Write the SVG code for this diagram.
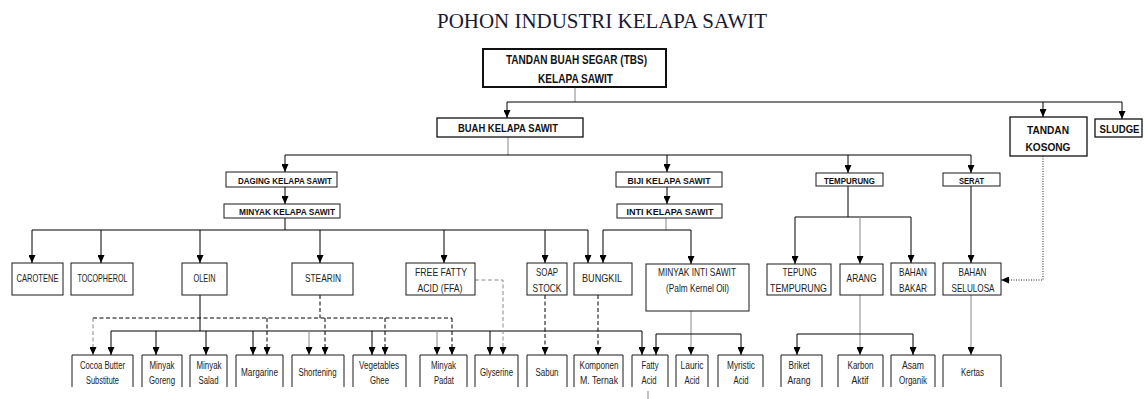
<svg xmlns="http://www.w3.org/2000/svg" width="1147" height="399" viewBox="0 0 1147 399">
<style>
.bg{fill:#fff}
.box{fill:#fff;stroke:#1a1a1a;stroke-width:1}
.bx2{fill:#fff;stroke:#111;stroke-width:1.3}
.open{fill:none;stroke:#1a1a1a;stroke-width:1}
.b{font-family:"Liberation Sans",Arial,sans-serif;font-weight:bold;text-anchor:middle;fill:#111}
.r{font-family:"Liberation Sans",Arial,sans-serif;text-anchor:middle;fill:#222}
.ln{fill:none;stroke:#000;stroke-width:1}
.gl{fill:none;stroke:#888;stroke-width:1}
.ds{fill:none;stroke:#000;stroke-width:1;stroke-dasharray:4,2.5}
.dg{fill:none;stroke:#888;stroke-width:1;stroke-dasharray:4,2.5}
.dt{fill:none;stroke:#222;stroke-width:1;stroke-dasharray:1,1.5}
.ah{marker-end:url(#ah)}
</style>
<defs>
<marker id="ah" viewBox="0 0 8 7" refX="8" refY="3.5" markerWidth="8" markerHeight="7" orient="auto" markerUnits="userSpaceOnUse"><path d="M0,0 L8,3.5 L0,7 z" fill="#000"/></marker>
</defs>
<rect class="bg" x="0" y="0" width="1147" height="399"/>
<text x="602" y="28" font-family="'Liberation Serif','Times New Roman',serif" font-size="20.5" fill="#1a1a33" text-anchor="middle" textLength="330" lengthAdjust="spacingAndGlyphs">POHON INDUSTRI KELAPA SAWIT</text>

<g id="connectors">
<path class="gl" d="M575,87 V102"/>
<path class="ln" d="M507,102 H1122"/>
<path class="ln ah" d="M507,102 V118"/>
<path class="ln ah" d="M1043,102 V117"/>
<path class="ln ah" d="M1122,102 V119"/>
<path class="gl" d="M508,137 V155"/>
<path class="ln" d="M285,155 H971"/>
<path class="ln ah" d="M285,155 V172"/>
<path class="ln ah" d="M667,155 V172"/>
<path class="ln ah" d="M848,155 V173"/>
<path class="ln ah" d="M971,155 V173"/>
<path class="ln ah" d="M285,187 V204"/>
<path class="ln ah" d="M667,187 V204"/>
<path class="ln" d="M285,218 V230 M32,230 H588"/>
<path class="ln ah" d="M32,230 V263"/>
<path class="ln ah" d="M101,230 V263"/>
<path class="ln ah" d="M200,230 V263"/>
<path class="ln ah" d="M320,230 V263"/>
<path class="ln ah" d="M444,230 V263"/>
<path class="ln ah" d="M545,230 V263"/>
<path class="ln ah" d="M588,230 V263"/>
<path class="gl" d="M666,218 V230"/>
<path class="ln" d="M603,230 H691"/>
<path class="ln ah" d="M603,230 V263"/>
<path class="ln ah" d="M691,230 V264"/>
<path class="ln" d="M848,186 V217 M795,217 H911"/>
<path class="ln ah" d="M795,217 V264"/>
<path class="gl ah" d="M860,217 V264"/>
<path class="ln ah" d="M911,217 V263"/>
<path class="ln ah" d="M971,186 V263"/>
<path class="dt ah" d="M1043,156 V280 H1001"/>
<path class="ln" d="M200,295 V331 M111,331 H642"/>
<path class="ln ah" d="M111,331 V355"/>
<path class="ln ah" d="M156,331 V355"/>
<path class="ln ah" d="M206,331 V355"/>
<path class="ln ah" d="M253,331 V355"/>
<path class="gl ah" d="M309,331 V355"/>
<path class="ln ah" d="M372,331 V355"/>
<path class="gl ah" d="M437,331 V355"/>
<path class="ln ah" d="M490,331 V355"/>
<path class="ln ah" d="M642,331 V355"/>
<path class="ds" d="M320,295 V318 M93,318 H452"/>
<path class="dg ah" d="M93,318 V355"/>
<path class="ds ah" d="M267,318 V355"/>
<path class="ds ah" d="M325,318 V355"/>
<path class="ds ah" d="M385,318 V355"/>
<path class="ds ah" d="M452,318 V355"/>
<path class="dg ah" d="M475,280 H503 V355"/>
<path class="ds ah" d="M545,295 V355"/>
<path class="ds ah" d="M598,295 V355"/>
<path class="gl ah" d="M691,311 V355"/>
<path class="ln" d="M656,334 H741"/>
<path class="ln ah" d="M656,334 V355"/>
<path class="ln ah" d="M741,334 V355"/>
<path class="gl ah" d="M860,295 V355"/>
<path class="ln" d="M797,334 H913"/>
<path class="ln ah" d="M797,334 V355"/>
<path class="ln ah" d="M913,334 V355"/>
<path class="gl ah" d="M971,295 V355"/>
<path class="gl" d="M648,391 V399"/>
</g>

<g id="tbs"><rect x="483" y="49" width="183" height="38" fill="#fff" stroke="#111" stroke-width="2"/>
<text class="b" x="576.5" y="64" font-size="13" textLength="141" lengthAdjust="spacingAndGlyphs">TANDAN BUAH SEGAR (TBS)</text>
<text class="b" x="575.5" y="83" font-size="13" textLength="75" lengthAdjust="spacingAndGlyphs">KELAPA SAWIT</text></g>

<g id="buah"><rect class="bx2" x="437" y="118" width="146" height="19"/>
<text class="b" x="508" y="132" font-size="11" textLength="100" lengthAdjust="spacingAndGlyphs">BUAH KELAPA SAWIT</text></g>

<g id="tandan-kosong"><rect class="bx2" x="1010" y="117" width="77" height="39"/>
<text class="b" x="1048" y="134" font-size="11" textLength="42" lengthAdjust="spacingAndGlyphs">TANDAN</text>
<text class="b" x="1048" y="151" font-size="11" textLength="45" lengthAdjust="spacingAndGlyphs">KOSONG</text></g>

<g id="sludge"><rect class="bx2" x="1095" y="119" width="47" height="18"/>
<text class="b" x="1119.5" y="132.5" font-size="11" textLength="40" lengthAdjust="spacingAndGlyphs">SLUDGE</text></g>

<g id="daging"><rect class="box" x="226" y="172" width="111" height="15"/>
<text class="b" x="285" y="183.5" font-size="9.5" textLength="94" lengthAdjust="spacingAndGlyphs">DAGING KELAPA SAWIT</text></g>
<g id="minyak-kelapa-sawit"><rect class="box" x="224" y="204" width="116" height="14"/>
<text class="b" x="287" y="214.5" font-size="9.5" textLength="96" lengthAdjust="spacingAndGlyphs">MINYAK KELAPA SAWIT</text></g>
<g id="biji"><rect class="box" x="616" y="172" width="106" height="15"/>
<text class="b" x="669" y="183.5" font-size="9.5" textLength="83" lengthAdjust="spacingAndGlyphs">BIJI KELAPA SAWIT</text></g>
<g id="inti"><rect class="box" x="617" y="204" width="105" height="14"/>
<text class="b" x="670" y="214.5" font-size="9.5" textLength="87" lengthAdjust="spacingAndGlyphs">INTI KELAPA SAWIT</text></g>
<g id="tempurung"><rect class="box" x="816" y="173" width="67" height="13"/>
<text class="b" x="849.5" y="183.5" font-size="9.5" textLength="51" lengthAdjust="spacingAndGlyphs">TEMPURUNG</text></g>
<g id="serat"><rect class="box" x="943" y="173" width="57" height="13"/>
<text class="b" x="971.5" y="183.5" font-size="9.5" textLength="25" lengthAdjust="spacingAndGlyphs">SERAT</text></g>

<g id="carotene"><rect class="box" x="12" y="263" width="51" height="32"/>
<text class="r" x="37.5" y="282" font-size="10.5" textLength="42" lengthAdjust="spacingAndGlyphs">CAROTENE</text></g>
<g id="tocopherol"><rect class="box" x="71" y="263" width="62" height="32"/>
<text class="r" x="102.5" y="282" font-size="10.5" textLength="50" lengthAdjust="spacingAndGlyphs">TOCOPHEROL</text></g>
<g id="olein"><rect class="box" x="182" y="263" width="45" height="32"/>
<text class="r" x="204.5" y="282" font-size="10.5" textLength="22" lengthAdjust="spacingAndGlyphs">OLEIN</text></g>
<g id="stearin"><rect class="box" x="292" y="263" width="61" height="32"/>
<text class="r" x="323" y="282" font-size="10.5" textLength="36" lengthAdjust="spacingAndGlyphs">STEARIN</text></g>
<g id="ffa"><rect class="box" x="406" y="263" width="69" height="32"/>
<text class="r" x="441" y="276" font-size="10.5" textLength="52" lengthAdjust="spacingAndGlyphs">FREE FATTY</text>
<text class="r" x="440" y="291.5" font-size="10.5" textLength="45" lengthAdjust="spacingAndGlyphs">ACID (FFA)</text></g>
<g id="soap-stock"><rect class="box" x="527" y="263" width="40" height="32"/>
<text class="r" x="547" y="276" font-size="10.5" textLength="22" lengthAdjust="spacingAndGlyphs">SOAP</text>
<text class="r" x="547" y="291.5" font-size="10.5" textLength="29" lengthAdjust="spacingAndGlyphs">STOCK</text></g>
<g id="bungkil"><rect class="box" x="574" y="263" width="58" height="32"/>
<text class="r" x="602" y="282" font-size="10.5" textLength="40" lengthAdjust="spacingAndGlyphs">BUNGKIL</text></g>
<g id="minyak-inti-sawit"><rect class="box" x="646" y="264" width="103" height="47"/>
<text class="r" x="697" y="276" font-size="10.5" textLength="78" lengthAdjust="spacingAndGlyphs">MINYAK INTI SAWIT</text>
<text class="r" x="697.5" y="291.5" font-size="10.5" textLength="63" lengthAdjust="spacingAndGlyphs">(Palm Kernel Oil)</text></g>
<g id="tepung"><rect class="box" x="767" y="264" width="64" height="31"/>
<text class="r" x="799.5" y="276" font-size="10.5" textLength="34" lengthAdjust="spacingAndGlyphs">TEPUNG</text>
<text class="r" x="798.5" y="291.5" font-size="10.5" textLength="57" lengthAdjust="spacingAndGlyphs">TEMPURUNG</text></g>
<g id="arang"><rect class="box" x="840" y="264" width="43" height="31"/>
<text class="r" x="861.5" y="282" font-size="10.5" textLength="30" lengthAdjust="spacingAndGlyphs">ARANG</text></g>
<g id="bahan-bakar"><rect class="box" x="891" y="263" width="44" height="32"/>
<text class="r" x="913" y="276" font-size="10.5" textLength="28" lengthAdjust="spacingAndGlyphs">BAHAN</text>
<text class="r" x="913" y="291.5" font-size="10.5" textLength="28" lengthAdjust="spacingAndGlyphs">BAKAR</text></g>
<g id="bahan-selulosa"><rect class="box" x="943" y="263" width="58" height="32"/>
<text class="r" x="972.5" y="276" font-size="10.5" textLength="28" lengthAdjust="spacingAndGlyphs">BAHAN</text>
<text class="r" x="973" y="291.5" font-size="10.5" textLength="43" lengthAdjust="spacingAndGlyphs">SELULOSA</text></g>

<g id="cbs"><path class="open" d="M72,387 V355 H133 V387"/>
<text class="r" x="102.5" y="368.5" font-size="10" textLength="45" lengthAdjust="spacingAndGlyphs">Cocoa Butter</text>
<text class="r" x="102.5" y="383.5" font-size="10" textLength="33" lengthAdjust="spacingAndGlyphs">Substitute</text></g>
<g id="minyak-goreng"><path class="open" d="M142,387 V355 H182 V387"/>
<text class="r" x="162" y="368.5" font-size="10" textLength="25" lengthAdjust="spacingAndGlyphs">Minyak</text>
<text class="r" x="162" y="383.5" font-size="10" textLength="26" lengthAdjust="spacingAndGlyphs">Goreng</text></g>
<g id="minyak-salad"><path class="open" d="M190,387 V355 H227 V387"/>
<text class="r" x="209" y="368.5" font-size="10" textLength="25" lengthAdjust="spacingAndGlyphs">Minyak</text>
<text class="r" x="208.5" y="383.5" font-size="10" textLength="20" lengthAdjust="spacingAndGlyphs">Salad</text></g>
<g id="margarine"><path class="open" d="M236,387 V355 H283 V387"/>
<text class="r" x="259.5" y="375.5" font-size="10" textLength="37" lengthAdjust="spacingAndGlyphs">Margarine</text></g>
<g id="shortening"><path class="open" d="M292,387 V355 H344 V387"/>
<text class="r" x="317.5" y="375.5" font-size="10" textLength="38" lengthAdjust="spacingAndGlyphs">Shortening</text></g>
<g id="vegetables-ghee"><path class="open" d="M353,387 V355 H406 V387"/>
<text class="r" x="379" y="368.5" font-size="10" textLength="40" lengthAdjust="spacingAndGlyphs">Vegetables</text>
<text class="r" x="379.5" y="383.5" font-size="10" textLength="19" lengthAdjust="spacingAndGlyphs">Ghee</text></g>
<g id="minyak-padat"><path class="open" d="M420,387 V355 H467 V387"/>
<text class="r" x="443.5" y="368.5" font-size="10" textLength="25" lengthAdjust="spacingAndGlyphs">Minyak</text>
<text class="r" x="444" y="383.5" font-size="10" textLength="20" lengthAdjust="spacingAndGlyphs">Padat</text></g>
<g id="glyserine"><path class="open" d="M475,387 V355 H518 V387"/>
<text class="r" x="496.5" y="375.5" font-size="10" textLength="33" lengthAdjust="spacingAndGlyphs">Glyserine</text></g>
<g id="sabun"><path class="open" d="M527,387 V355 H567 V387"/>
<text class="r" x="547" y="375.5" font-size="10" textLength="23" lengthAdjust="spacingAndGlyphs">Sabun</text></g>
<g id="komponen"><path class="open" d="M574,387 V355 H623 V387"/>
<text class="r" x="599" y="368.5" font-size="10" textLength="39" lengthAdjust="spacingAndGlyphs">Komponen</text>
<text class="r" x="599" y="383.5" font-size="10" textLength="38" lengthAdjust="spacingAndGlyphs">M. Ternak</text></g>
<g id="fatty-acid"><path class="open" d="M632,387 V355 H668 V387"/>
<text class="r" x="650" y="368.5" font-size="10" textLength="17" lengthAdjust="spacingAndGlyphs">Fatty</text>
<text class="r" x="649" y="383.5" font-size="10" textLength="15" lengthAdjust="spacingAndGlyphs">Acid</text></g>
<g id="lauric-acid"><path class="open" d="M676,387 V355 H708 V387"/>
<text class="r" x="692" y="368.5" font-size="10" textLength="23" lengthAdjust="spacingAndGlyphs">Lauric</text>
<text class="r" x="692" y="383.5" font-size="10" textLength="15" lengthAdjust="spacingAndGlyphs">Acid</text></g>
<g id="myristic-acid"><path class="open" d="M718,387 V355 H763 V387"/>
<text class="r" x="741" y="368.5" font-size="10" textLength="28" lengthAdjust="spacingAndGlyphs">Myristic</text>
<text class="r" x="741" y="383.5" font-size="10" textLength="15" lengthAdjust="spacingAndGlyphs">Acid</text></g>
<g id="briket-arang"><path class="open" d="M781,387 V355 H822 V387"/>
<text class="r" x="799" y="368.5" font-size="10" textLength="21" lengthAdjust="spacingAndGlyphs">Briket</text>
<text class="r" x="799" y="383.5" font-size="10" textLength="23" lengthAdjust="spacingAndGlyphs">Arang</text></g>
<g id="karbon-aktif"><path class="open" d="M838,387 V355 H883 V387"/>
<text class="r" x="860.5" y="368.5" font-size="10" textLength="26" lengthAdjust="spacingAndGlyphs">Karbon</text>
<text class="r" x="860" y="383.5" font-size="10" textLength="17" lengthAdjust="spacingAndGlyphs">Aktif</text></g>
<g id="asam-organik"><path class="open" d="M891,387 V355 H935 V387"/>
<text class="r" x="913" y="368.5" font-size="10" textLength="22" lengthAdjust="spacingAndGlyphs">Asam</text>
<text class="r" x="913" y="383.5" font-size="10" textLength="28" lengthAdjust="spacingAndGlyphs">Organik</text></g>
<g id="kertas"><path class="open" d="M943,387 V355 H1001 V387"/>
<text class="r" x="972.5" y="375.5" font-size="10" textLength="23" lengthAdjust="spacingAndGlyphs">Kertas</text></g>
</svg>
